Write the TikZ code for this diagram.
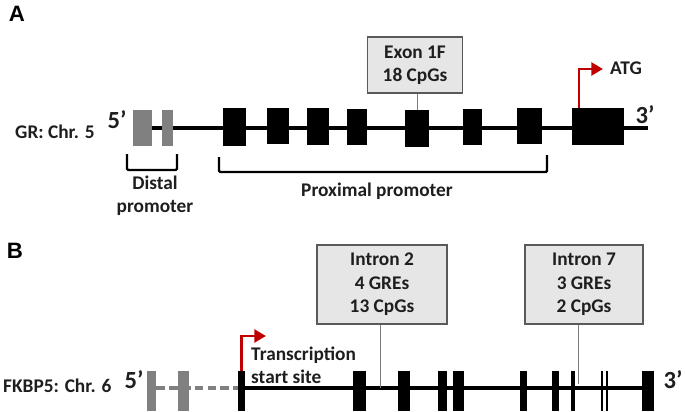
\documentclass[tikz,border=0pt]{standalone}
\usepackage{fontspec}
\setmainfont{Carlito}
\newfontfamily\panelfont{Liberation Sans}
\usetikzlibrary{arrows.meta,positioning}
\definecolor{exongray}{RGB}{128,128,128}
\definecolor{boxfill}{RGB}{230,230,230}
\definecolor{boxline}{RGB}{90,90,90}
\definecolor{tssred}{RGB}{192,0,0}
\definecolor{txt}{RGB}{30,30,30}
\begin{document}
\begin{tikzpicture}[x=0.03cm, y=-0.03cm,
    every node/.style={inner sep=0pt, text=txt, font=\bfseries\fontsize{16.5}{20}\selectfont},
    endlabel/.style={font=\bfseries\fontsize{21}{24}\selectfont},
    panel/.style={font=\panelfont\bfseries\fontsize{19}{20}\selectfont, text=black},
    callout/.style={draw=boxline, fill=boxfill, line width=0.9pt, align=center},
    pointer/.style={draw=boxline!80, line width=0.8pt},
    tss/.style={draw=tssred, line width=2.5pt, -{Triangle[length=10pt,width=11pt]}},
    bracket/.style={draw=black, line width=2pt, rounded corners=1pt}]
    \useasboundingbox (0,0) rectangle (685,411);

    \node[panel] (labA) at (17,14) {A};
    \node[panel] (labB) at (15,251) {B};

    \draw[line width=2.8pt, black] (151,128) -- (648,128);
    \fill[exongray] (133,110) rectangle (152,146);
    \fill[exongray] (162,110) rectangle (173,146);
    \fill[black] (223,108) rectangle (246,146);
    \fill[black] (267,108) rectangle (289,144);
    \fill[black] (307,108) rectangle (329,145);
    \fill[black] (347,109) rectangle (367,145);
    \fill[black] (405,110) rectangle (429,147);
    \fill[black] (463,109) rectangle (482,145);
    \fill[black] (517,108) rectangle (542,144);
    \fill[black] (572,108) rectangle (624,145);

    \node[anchor=west] (grname) at (15,132) {GR: Chr. 5};
    \node[endlabel] (grfive) at (117,120) {5’};
    \node[endlabel] (grthree) at (645,115) {3’};

    \node[callout, minimum width=2.85cm, minimum height=1.68cm] (exonbox) at (415,65) {Exon 1F\\18 CpGs};
    \coordinate (exontop) at (417,110);
    \draw[pointer] (exontop |- exonbox.south) -- (exontop);

    \coordinate (atgfoot) at (579,108);
    \node[anchor=west] (atg) at (610,68) {ATG};
    \draw[tss] (atgfoot) |- (603,69);

    \draw[bracket] (127,154) -- (127,170) -- (177,170) -- (177,154);
    \draw[bracket] (219,157) -- (219,172) -- (547,172) -- (547,155);
    \node[align=center] (distal) at (155,196) {Distal\\promoter};
    \node (proximal) at (377,191) {Proximal promoter};

    \draw[line width=3pt, exongray, dash pattern=on 7.5pt off 3.5pt] (156,388) -- (240,388);
    \draw[line width=3pt, black] (245,388) -- (642,388);
    \fill[exongray] (147,371) rectangle (156,411);
    \fill[exongray] (178,371) rectangle (189,411);
    \fill[black] (238,371) rectangle (245,411);
    \fill[black] (353,371) rectangle (366,411);
    \fill[black] (398,371) rectangle (410,411);
    \fill[black] (438,371) rectangle (447,411);
    \fill[black] (453,371) rectangle (464,411);
    \fill[black] (520,371) rectangle (527,411);
    \fill[black] (552,371) rectangle (559,411);
    \fill[black] (571,371) rectangle (575,411);
    \fill[black] (601,371) rectangle (603,411);
    \fill[black] (606,371) rectangle (608,411);
    \fill[black] (642,371) rectangle (654,411);

    \node[anchor=west] (fkname) at (3,386) {FKBP5: Chr. 6};
    \node[endlabel] (fkfive) at (134,380) {5’};
    \node[endlabel] (fkthree) at (673,380) {3’};

    \coordinate (tssfoot) at (241.5,371);
    \draw[tss] (tssfoot) |- (266,336);
    \node[anchor=west, align=left] (tsstext) at (251,365) {Transcription\\start site};

    \node[callout, minimum width=3.9cm, minimum height=2.37cm] (introntwo) at (382,284.5) {Intron 2\\4 GREs\\13 CpGs};
    \node[callout, minimum width=3.54cm, minimum height=2.37cm] (intronseven) at (584,284.5) {Intron 7\\3 GREs\\2 CpGs};
    \coordinate (twofoot) at (380,388);
    \coordinate (sevenfoot) at (578,384);
    \draw[pointer] (twofoot |- introntwo.south) -- (twofoot);
    \draw[pointer] (sevenfoot |- intronseven.south) -- (sevenfoot);
\end{tikzpicture}
\end{document}
